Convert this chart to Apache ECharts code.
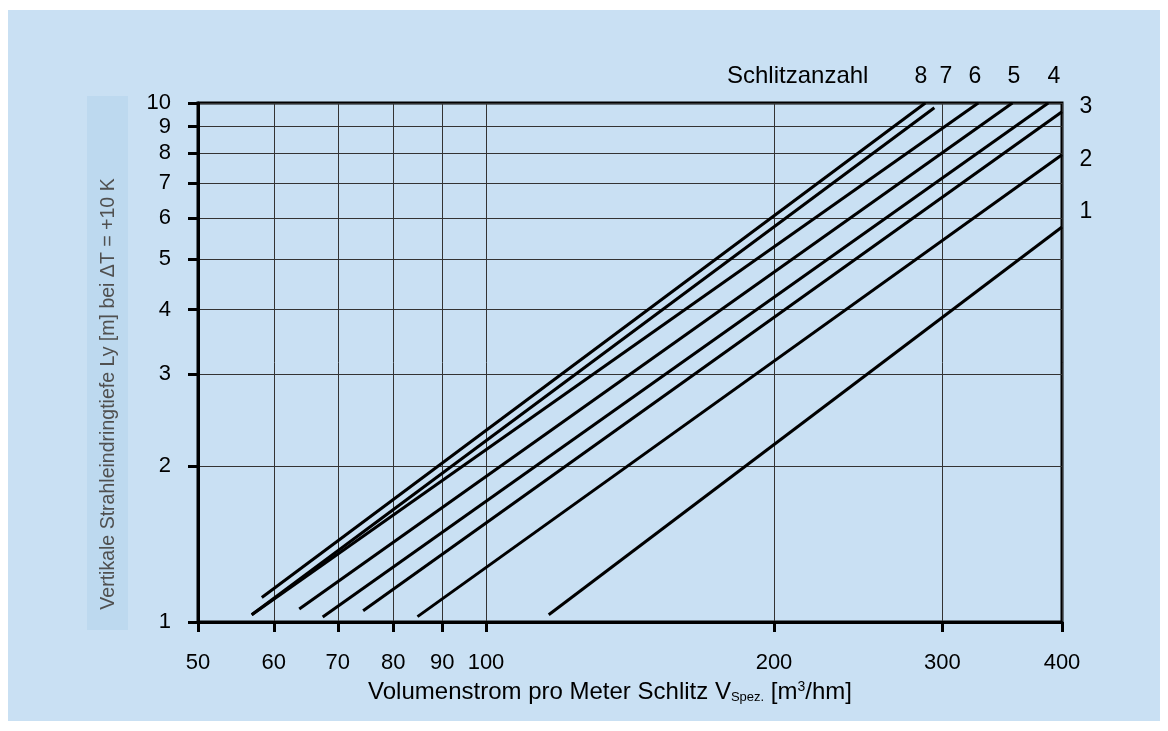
<!DOCTYPE html>
<html>
<head>
<meta charset="utf-8">
<script src="https://cdn.jsdelivr.net/npm/echarts@6/dist/echarts.min.js"></script>
<style>
html,body{margin:0;padding:0;background:#ffffff;}
#chart{width:1168px;height:731px;}
</style>
</head>
<body>
<div id="chart"></div>
<script>
// ---- data ----
const slotCounts = ['1', '2', '3', '4', '5', '6', '7', '8'];
const startX = [116.3, 84.8, 74.4, 67.5, 63.8, 56.9, 56.9, 58.3];
const startY = [1.033, 1.024, 1.051, 1.022, 1.059, 1.033, 1.033, 1.115];
const endX   = [400, 400, 400, 387, 355, 327, 294.2, 287.9];
const endY   = [5.77, 7.95, 9.62, 10, 10, 10, 9.79, 10];
const xTicks = [50, 60, 70, 80, 90, 100, 200, 300, 400];
const yTicks = [1, 2, 3, 4, 5, 6, 7, 8, 9, 10];
const xName = 'Volumenstrom pro Meter Schlitz V';
const yName = 'Vertikale Strahleindringtiefe Ly [m] bei \u0394T = +10 K';
const legendTitle = 'Schlitzanzahl';

const FONT = '"Liberation Sans", Arial, sans-serif';
const chart = echarts.init(document.getElementById('chart'));

const series = slotCounts.map(function (n, i) {
  return {
    name: n,
    type: 'line',
    data: [[startX[i], startY[i]], [endX[i], endY[i]]],
    showSymbol: false,
    symbol: 'none',
    lineStyle: { color: '#000', width: 3 },
    silent: true,
    z: 5
  };
});

function txt(x, y, s, align, size) {
  return {
    type: 'text', x: x, y: y, z: 10,
    style: { text: s, font: (size || 23) + 'px ' + FONT, fill: '#000', align: align || 'center', verticalAlign: 'middle' }
  };
}

const option = {
  animation: false,
  backgroundColor: 'transparent',
  grid: { left: 198, right: 106, top: 103, bottom: 109, show: true, borderColor: '#000', borderWidth: 3, backgroundColor: 'transparent' },
  xAxis: {
    type: 'log', logBase: 10, min: 50, max: 400,
    name: xName + '{sub|Spez.} [m{sup|3}/hm]',
    nameLocation: 'middle', nameGap: 58,
    nameTextStyle: {
      fontFamily: FONT, fontSize: 24, color: '#000', padding: [0, 40, 0, 0],
      rich: {
        sub: { fontFamily: FONT, fontSize: 13, color: '#000', verticalAlign: 'bottom', padding: [10, 0, 0, 0] },
        sup: { fontFamily: FONT, fontSize: 14, color: '#000', verticalAlign: 'top', padding: [0, 0, 8, 0] }
      }
    },
    axisLine: { show: true, lineStyle: { color: '#000', width: 3 } },
    axisTick: { show: true, customValues: xTicks, length: 10, inside: false, lineStyle: { color: '#000', width: 3 } },
    axisLabel: { customValues: xTicks, fontFamily: FONT, fontSize: 22, color: '#000', margin: 30 },
    splitLine: { show: true, lineStyle: { color: '#333', width: 1 } },
    minorTick: { show: false }, minorSplitLine: { show: false }
  },
  yAxis: {
    type: 'log', logBase: 10, min: 1, max: 10,
    axisLine: { show: true, lineStyle: { color: '#000', width: 3 } },
    axisTick: { show: true, customValues: yTicks, length: 10, inside: false, lineStyle: { color: '#000', width: 3 } },
    axisLabel: { customValues: yTicks, fontFamily: FONT, fontSize: 22, color: '#000', margin: 27 },
    splitLine: { show: true, lineStyle: { color: '#333', width: 1 } },
    minorTick: { show: false }, minorSplitLine: { show: false }
  },
  graphic: [
    { type: 'rect', left: 8, top: 10, shape: { x: 0, y: 0, width: 1152, height: 711 }, style: { fill: '#c9e0f3' }, z: -10, silent: true },
    { type: 'rect', left: 87, top: 96, shape: { x: 0, y: 0, width: 41, height: 534 }, style: { fill: '#bdd9ef' }, z: -9, silent: true },
    {
      type: 'text', x: 108, y: 394, rotation: Math.PI / 2, scaleX: 0.93, z: 10,
      style: { text: yName, font: '21px ' + FONT, fill: '#505050', align: 'center', verticalAlign: 'middle' }
    },
    txt(727, 76, legendTitle, 'left', 24),
    txt(921, 77, '8'), txt(946, 77, '7'), txt(975, 77, '6'), txt(1014, 77, '5'), txt(1054, 77, '4'),
    txt(1086, 107, '3'), txt(1086, 160, '2'), txt(1086, 212, '1')
  ],
  series: series
};
chart.setOption(option);
</script>
</body>
</html>
